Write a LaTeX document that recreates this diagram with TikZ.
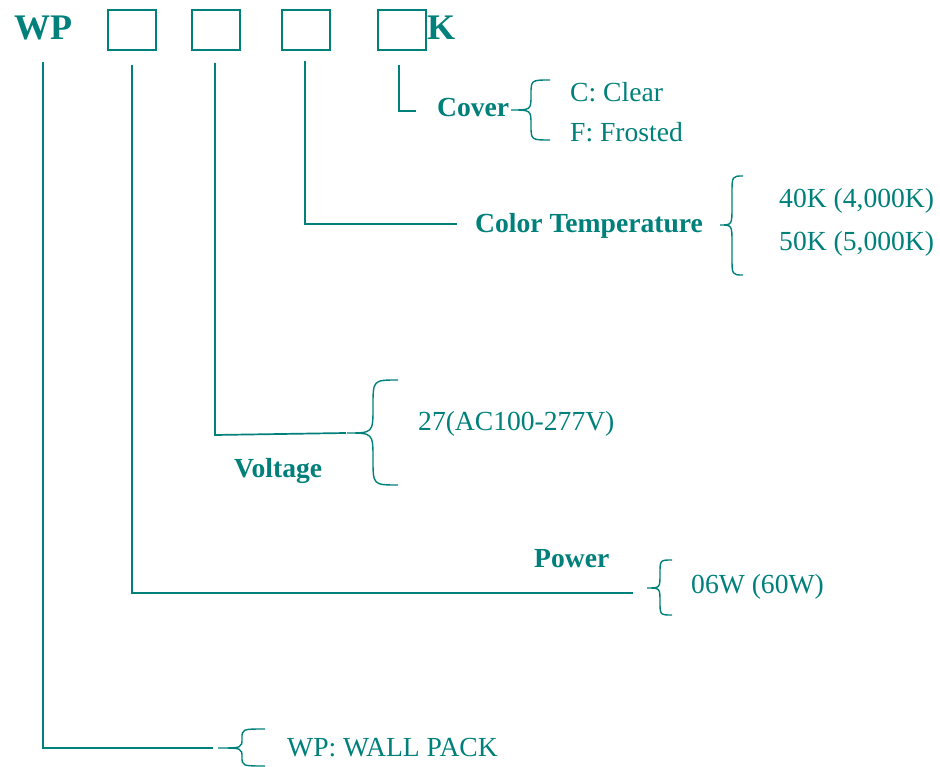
\documentclass[tikz,border=0pt]{standalone}
\usepackage{fontspec}
\setmainfont{Liberation Serif}
\definecolor{teal1}{RGB}{0,128,122}
\newcommand\mybrace[7]{%
\draw[bracel] (#1,#2) .. controls (#6,#2) .. ({#6},{#2+#7}) -- ({#6},{#5-#7}) .. controls (#6,#5) .. (#4,#5) .. controls (#6,#5) .. ({#6},{#5+#7}) -- ({#6},{#3-#7}) .. controls (#6,#3) .. (#1,#3);}
\begin{document}
\begin{tikzpicture}[x=1pt,y=-1pt,
  line/.style={draw=teal1,line width=1.7pt},
  bracel/.style={draw=teal1,line width=1.4pt},
  boxn/.style={draw=teal1,line width=1.9pt,minimum width=48pt,minimum height=40pt,inner sep=0pt,anchor=north west},
  lab/.style={text=teal1,font=\fontsize{27.6}{30}\selectfont\bfseries,inner sep=0pt,anchor=base west},
  val/.style={text=teal1,font=\fontsize{27.6}{30}\selectfont,inner sep=0pt,anchor=base west},
  big/.style={text=teal1,font=\fontsize{36}{40}\selectfont\bfseries,inner sep=0pt,anchor=base west}]
\useasboundingbox (0,0) rectangle (940,767);
% title
\node[big] (wp) at (14,40) {WP};
\node[boxn] (b1) at (107,9) {};
\node[boxn] (b2) at (191,9) {};
\node[boxn] (b3) at (281,9) {};
\node[boxn] (b4) at (377,9) {};
\node[big] (k) at (427,40) {K};
% labels
\node[lab] (cover) at (437,117) {Cover};
\node[val] (clear) at (570,102) {C: Clear};
\node[val] (frost) at (570,142) {F: Frosted};
\node[lab] (ct) at (475,233) {Color Temperature};
\node[val] (k40) at (779,208) {40K (4,000K)};
\node[val] (k50) at (779,251) {50K (5,000K)};
\node[val] (v27) at (418,430) {27(AC100-277V)};
\node[lab] (volt) at (234,477) {Voltage};
\node[lab] (pow) at (534,567) {Power};
\node[val] (w06) at (691,593) {06W (60W)};
\node[val] (wall) at (287,756) {WP: WALL PACK};
% connector coordinates
\coordinate (a0) at (43,62);   \coordinate (a1) at (43,748);  \coordinate (a2) at (213,748);
\coordinate (p0) at (132,65);  \coordinate (p1) at (132,593); \coordinate (p2) at (633,593);
\coordinate (v0) at (215,63);  \coordinate (v1) at (215,435); \coordinate (v2) at (346,433);
\coordinate (c0) at (305,61);  \coordinate (c1) at (305,224); \coordinate (c2) at (457,224);
\coordinate (o0) at (399,65);  \coordinate (o1) at (399,111); \coordinate (o2) at (416,111);
\draw[line] (a0) -- (a1) -- (a2);
\draw[line] (p0) -- (p1) -- (p2);
\draw[line] (v0) -- (v1) -- (v2);
\draw[line] (c0) -- (c1) -- (c2);
\draw[line] (o0) -- (o1) -- (o2);
% braces
\mybrace{550}{80}{140}{511}{110}{531}{15}
\mybrace{743}{176}{275}{720}{225}{732}{18}
\mybrace{398}{380}{485}{347}{433}{373}{26}
\mybrace{672}{560}{615}{647}{588}{660}{14}
\mybrace{265}{729}{766}{218}{748}{242}{9.5}
\end{tikzpicture}
\end{document}
